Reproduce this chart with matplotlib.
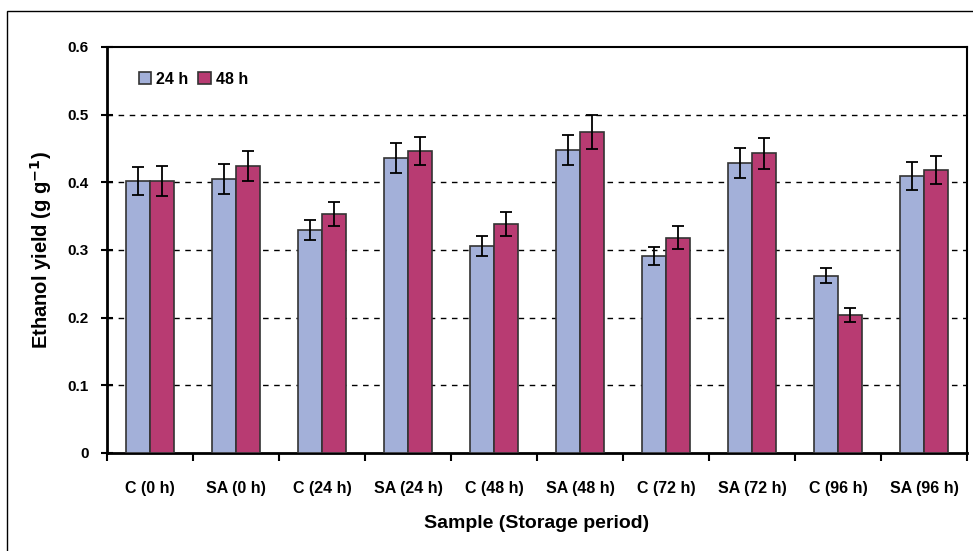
import numpy as np
import matplotlib.pyplot as plt
from matplotlib.patches import Rectangle

plt.rcParams['font.family'] = ['Liberation Sans', 'DejaVu Sans']

samples = ['C (0 h)', 'SA (0 h)', 'C (24 h)', 'SA (24 h)', 'C (48 h)',
           'SA (48 h)', 'C (72 h)', 'SA (72 h)', 'C (96 h)', 'SA (96 h)']
y24 = [0.402, 0.405, 0.330, 0.436, 0.306, 0.448, 0.291, 0.429, 0.262, 0.409]
y48 = [0.402, 0.424, 0.353, 0.446, 0.338, 0.474, 0.318, 0.443, 0.204, 0.418]
e24 = [0.021, 0.022, 0.015, 0.022, 0.015, 0.022, 0.013, 0.022, 0.011, 0.021]
e48 = [0.022, 0.022, 0.018, 0.021, 0.018, 0.025, 0.017, 0.023, 0.010, 0.021]

c24 = '#a3b0d9'
c48 = '#b83b72'

fig = plt.figure(figsize=(9.73, 5.51), dpi=100)
fig.patches.append(Rectangle((7/973, -0.01), 1.0, 1 - 11/551 + 0.01,
                             transform=fig.transFigure, fill=False,
                             edgecolor='black', lw=1))
ax = fig.add_axes([107/973, 1 - 453/551, 860/973, 406/551])

x = np.arange(len(samples))
w = 0.28
ekw = dict(ecolor='black', elinewidth=1.3, capsize=4, capthick=1.3)
ax.bar(x - w/2, y24, w, yerr=e24, color=c24, edgecolor='#333333', lw=1.2,
       error_kw=ekw, label='24 h', zorder=3)
ax.bar(x + w/2, y48, w, yerr=e48, color=c48, edgecolor='#333333', lw=1.2,
       error_kw=ekw, label='48 h', zorder=3)

ax.set_xlim(-0.5, len(samples) - 0.5)
ax.set_ylim(0, 0.6)
ax.set_yticks([0, 0.1, 0.2, 0.3, 0.4, 0.5, 0.6])
ax.set_yticklabels(['0', '0.1', '0.2', '0.3', '0.4', '0.5', '0.6'],
                   fontsize=11, fontweight='bold')
for yv in [0.1, 0.2, 0.3, 0.4, 0.5]:
    ax.axhline(yv, color='black', lw=1, ls=(0, (4, 4)), zorder=1)

ax.set_xticks(x)
ax.set_xticklabels(samples, fontsize=11.5, fontweight='bold')
ax.tick_params(axis='x', length=0, pad=20)
ax.set_xticks(np.arange(-0.5, len(samples)), minor=True)
ax.tick_params(axis='x', which='minor', length=6, width=1.5, direction='out')
ax.tick_params(axis='y', length=8, width=1.5, direction='inout', pad=9)

for s in ['left', 'bottom']:
    ax.spines[s].set_linewidth(2)
for s in ['top', 'right']:
    ax.spines[s].set_linewidth(1.5)

ax.set_ylabel('Ethanol yield (g g$^{\\mathbf{-1}}$)', fontsize=14.5,
              fontweight='bold', labelpad=10)
ax.set_xlabel('Sample (Storage period)', fontsize=14, fontweight='bold',
              labelpad=14)

ax.legend(loc='upper left', bbox_to_anchor=(0.02, 0.975), frameon=False,
          ncol=2, prop={'weight': 'bold', 'size': 11.5},
          handlelength=0.8, handleheight=0.8, handletextpad=0.3,
          columnspacing=0.6)

fig.savefig('out.png', dpi=100)
